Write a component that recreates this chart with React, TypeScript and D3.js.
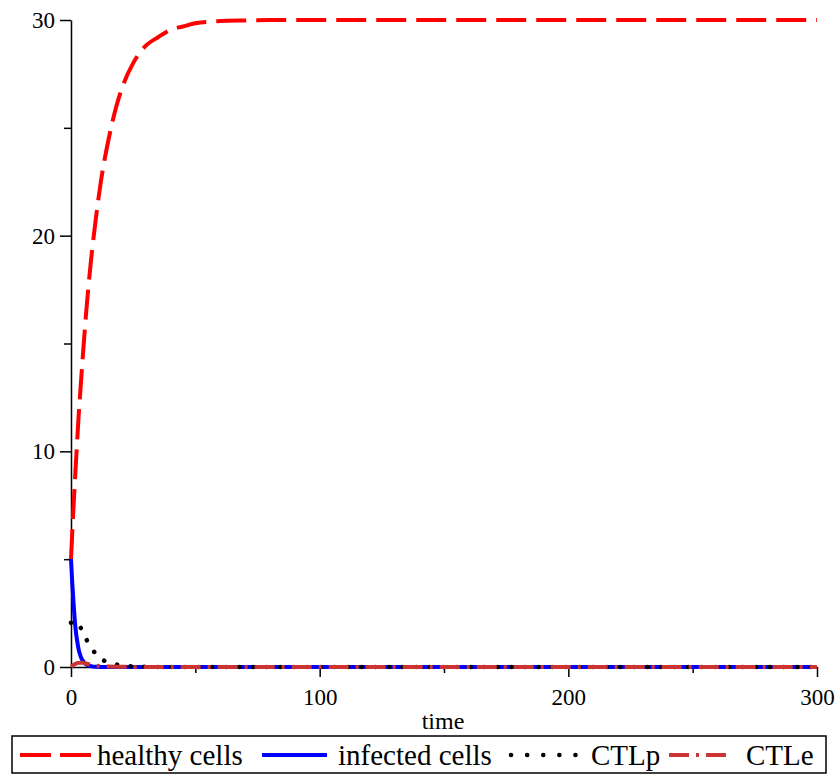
import React, { useEffect, useRef } from 'react';
import * as d3 from 'd3';

// values
const healthyT = [0, 1, 2, 3, 4, 5, 6, 8, 10, 12, 15, 18, 21, 25, 30, 35, 40, 45, 50, 60, 70, 80, 100, 150, 200, 250, 300];
const healthyV = [5, 7.4, 9.5, 11.5, 13.2, 14.8, 16.3, 18.8, 20.8, 22.5, 24.4, 25.9, 27.0, 28.0, 28.8, 29.2, 29.55, 29.7, 29.85, 29.95, 29.98, 30, 30, 30, 30, 30, 30];

const infectedT = [0, 0.5, 1, 1.5, 2, 2.5, 3, 4, 5, 6, 8, 10, 15, 20, 300];
const infectedV = [5, 3.9, 3.0, 2.2, 1.6, 1.2, 0.85, 0.45, 0.25, 0.13, 0.04, 0.01, 0, 0, 0];

const ctlpT = [0, 1, 2, 3, 4, 5, 6, 7, 8, 10, 12, 14, 16, 20, 25, 30, 40, 300];
const ctlpV = [2.05, 2.1, 2.12, 2.0, 1.8, 1.56, 1.32, 1.12, 0.93, 0.6, 0.38, 0.26, 0.18, 0.08, 0.03, 0.01, 0, 0];

const ctleT = [0, 1, 2, 3, 4, 5, 6, 8, 10, 12, 15, 20, 30, 300];
const ctleV = [0.02, 0.1, 0.16, 0.19, 0.2, 0.19, 0.16, 0.1, 0.06, 0.04, 0.02, 0.01, 0, 0];

const xMajor = [0, 100, 200, 300];
const xMinor = [50, 150, 250];
const yMajor = [0, 10, 20, 30];
const yMinor = [5, 15, 25];

const legendLabels = ['healthy cells', 'infected cells', 'CTLp', 'CTLe'];

const FONT = '"Liberation Serif", "DejaVu Serif", serif';

export default function App() {
    const ref = useRef<SVGSVGElement>(null);

    useEffect(() => {
        const node = ref.current;
        if (!node) return;
        const svg = d3.select(node);
        svg.selectAll('*').remove();

        const x = d3.scaleLinear().domain([0, 300]).range([71, 817]);
        const y = d3.scaleLinear().domain([0, 30]).range([667, 20]);

        // axes
        const yAxis = svg.append('g').attr('transform', 'translate(71,0)');
        yAxis.call(d3.axisLeft(y).tickValues(yMajor).tickSize(11).tickSizeOuter(0).tickFormat(d3.format('d')) as any);
        yAxis.append('g').call(d3.axisLeft(y).tickValues(yMinor).tickSize(7).tickFormat(() => '') as any)
            .select('.domain').remove();

        const xAxis = svg.append('g').attr('transform', 'translate(0,667)');
        xAxis.call(d3.axisBottom(x).tickValues(xMajor).tickSize(10).tickSizeOuter(0).tickFormat(d3.format('d')) as any);
        xAxis.append('g').call(d3.axisBottom(x).tickValues(xMinor).tickSize(6).tickFormat(() => '') as any)
            .select('.domain').remove();

        svg.selectAll('.domain, .tick line').attr('stroke', '#000').attr('stroke-width', 1.5);
        svg.selectAll('.tick text').attr('font-family', FONT).attr('font-size', 23).attr('fill', '#000');
        yAxis.selectAll('.tick text').attr('x', -16);
        xAxis.selectAll('.tick text').attr('y', 22);

        svg.append('text')
            .attr('x', 443).attr('y', 729)
            .attr('text-anchor', 'middle')
            .attr('font-family', FONT).attr('font-size', 24)
            .text('time');

        const line = d3.line<[number, number]>()
            .x(d => x(d[0]))
            .y(d => y(d[1]))
            .curve(d3.curveMonotoneX);

        const series = [
            { t: healthyT, v: healthyV, color: '#ff0000', dash: '30,10', width: 4, cap: 'butt' },
            { t: infectedT, v: infectedV, color: '#0000ff', dash: null, width: 4, cap: 'butt' },
            { t: ctlpT, v: ctlpV, color: '#000000', dash: '0.1,13.5', width: 4.5, cap: 'round' },
            { t: ctleT, v: ctleV, color: '#cc3333', dash: '20,7,3,7', width: 4, cap: 'butt' },
        ];

        series.forEach(s => {
            const pts = s.t.map((t, i) => [t, s.v[i]] as [number, number]);
            svg.append('path')
                .attr('d', line(pts))
                .attr('fill', 'none')
                .attr('stroke', s.color)
                .attr('stroke-width', s.width)
                .attr('stroke-linecap', s.cap)
                .attr('stroke-dasharray', s.dash);
        });

        // legend
        const lg = svg.append('g');
        lg.append('rect')
            .attr('x', 12).attr('y', 736).attr('width', 814).attr('height', 37)
            .attr('fill', 'none').attr('stroke', '#000').attr('stroke-width', 1.5);

        const sampleX = [[20, 91], [262, 327], [511, 576], [669, 726]];
        const textX = [97, 338, 591, 746];
        const ly = 755;
        series.forEach((s, i) => {
            lg.append('line')
                .attr('x1', sampleX[i][0]).attr('x2', sampleX[i][1])
                .attr('y1', ly).attr('y2', ly)
                .attr('stroke', s.color)
                .attr('stroke-width', s.width)
                .attr('stroke-linecap', s.cap)
                .attr('stroke-dasharray', i === 0 ? '31,9' : i === 2 ? '0.1,16' : s.dash);
            lg.append('text')
                .attr('x', textX[i]).attr('y', ly + 10)
                .attr('font-family', FONT).attr('font-size', 29)
                .text(legendLabels[i]);
        });
    }, []);

    return (
        <svg ref={ref} width={839} height={779}
            style={{ position: 'absolute', left: 0, top: 0, background: '#fff' }} />
    );
}
